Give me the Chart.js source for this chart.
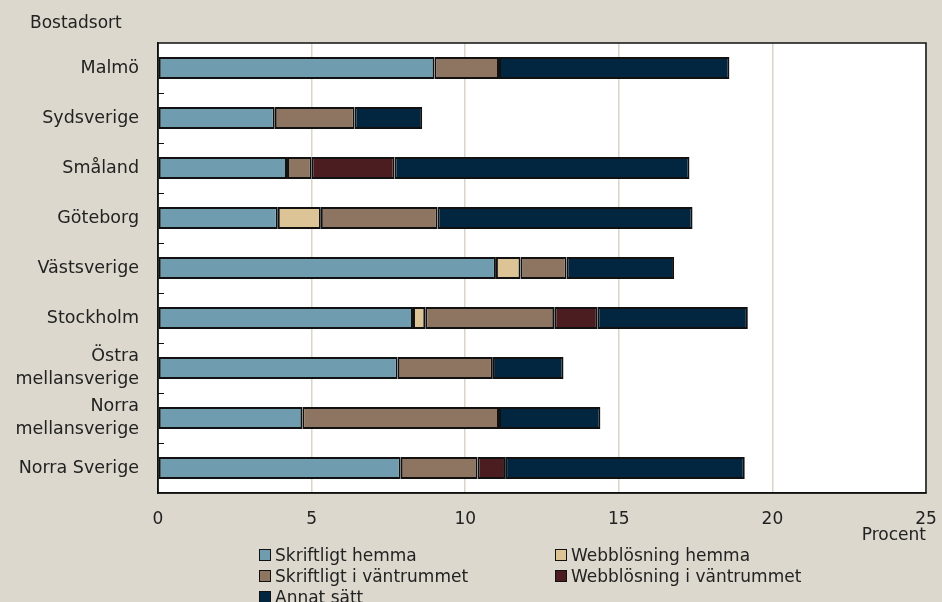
<!DOCTYPE html>
<html>
<head>
<meta charset="utf-8">
<script src="https://cdn.jsdelivr.net/npm/chart.js@4.4.1/dist/chart.umd.min.js"></script>
<style>
  body { margin: 0; background: #DDD8CD; font-family: "DejaVu Sans", sans-serif; }
  #wrap { position: relative; width: 942px; height: 602px; background: #DDD8CD; overflow: hidden; }
  #ytitle { position: absolute; left: 30px; top: 12px; font-size: 17px; color: #222; }
  #legend { position: absolute; left: 259px; top: 544px; display: grid; grid-template-columns: 296px 300px; row-gap: 0; }
  .item { display: flex; align-items: center; height: 21px; font-size: 17px; color: #222; white-space: nowrap; }
  .box { width: 10px; height: 10px; border: 1px solid #111; margin-right: 4px; }
</style>
</head>
<body>
<div id="wrap">
  <div id="ytitle">Bostadsort</div>
  <canvas id="chart" width="942" height="548"></canvas>
  <div id="legend"></div>
</div>
<script>
// categories (top to bottom)
var regions = ["Malmö", "Sydsverige", "Småland", "Göteborg", "Västsverige", "Stockholm",
  ["Östra", "mellansverige"], ["Norra", "mellansverige"], "Norra Sverige"];

// series, percent
var skriftligtHemma = [9.0, 3.8, 4.2, 3.9, 11.0, 8.3, 7.8, 4.7, 7.9];
var webbHemma = [0, 0, 0, 1.4, 0.8, 0.4, 0, 0, 0];
var skriftligtVantrum = [2.1, 2.6, 0.8, 3.8, 1.5, 4.2, 3.1, 6.4, 2.5];
var webbVantrum = [0, 0, 2.7, 0, 0, 1.4, 0, 0, 0.9];
var annatSatt = [7.5, 2.2, 9.6, 8.3, 3.5, 4.9, 2.3, 3.3, 7.8];

var xTicks = [0, 5, 10, 15, 20, 25];

function ds(label, data, color) {
  return {
    label: label,
    data: data,
    backgroundColor: color,
    borderColor: "#111",
    borderWidth: 2,
    borderSkipped: false,
    categoryPercentage: 1.0,
    barPercentage: 0.44
  };
}

// white plot area
var plotBg = {
  id: 'plotBg',
  beforeDraw: function(chart) {
    var a = chart.chartArea;
    chart.ctx.save();
    chart.ctx.fillStyle = "#fff";
    chart.ctx.fillRect(a.left, a.top, a.right - a.left, a.bottom - a.top);
    chart.ctx.restore();
  }
};

// frame round the plot + small ticks between categories
var framePlugin = {
  id: 'frame',
  afterDraw: function(chart) {
    var ctx = chart.ctx;
    var a = chart.chartArea;
    var y = chart.scales.y;
    ctx.save();
    ctx.strokeStyle = "#111";
    ctx.lineWidth = 1.5;
    ctx.strokeRect(a.left, a.top, a.right - a.left, a.bottom - a.top);
    ctx.lineWidth = 1;
    for (var i = 0; i < regions.length - 1; i++) {
      var yy = Math.round((y.getPixelForValue(i) + y.getPixelForValue(i + 1)) / 2) + 0.5;
      ctx.beginPath();
      ctx.moveTo(a.left, yy);
      ctx.lineTo(a.left + 6, yy);
      ctx.stroke();
    }
    ctx.restore();
  }
};

var chart = new Chart(document.getElementById('chart'), {
  type: 'bar',
  data: {
    labels: regions,
    datasets: [
      ds("Skriftligt hemma", skriftligtHemma, "#6F9DAF"),
      ds("Webblösning hemma", webbHemma, "#DDC497"),
      ds("Skriftligt i väntrummet", skriftligtVantrum, "#8D7562"),
      ds("Webblösning i väntrummet", webbVantrum, "#4B1C20"),
      ds("Annat sätt", annatSatt, "#022540")
    ]
  },
  options: {
    indexAxis: 'y',
    responsive: false,
    animation: false,
    layout: { padding: { top: 43, right: 16, left: 0, bottom: 0 } },
    plugins: {
      legend: { display: false },
      tooltip: { enabled: false }
    },
    scales: {
      x: {
        stacked: true,
        min: 0,
        max: 25,
        afterBuildTicks: function(scale) {
          scale.ticks = xTicks.map(function(v) { return { value: v }; });
        },
        afterFit: function(scale) {
          scale.height = 55;
          scale.paddingRight = 0;
          scale.paddingLeft = 0;
        },
        grid: { color: "#DAD4C9", lineWidth: 1.5, drawTicks: false },
        border: { display: true, color: "#111", width: 1.5 },
        ticks: { padding: 16, color: "#222", font: { family: "DejaVu Sans", size: 17 }, maxRotation: 0 },
        title: {
          display: true,
          text: "Procent",
          align: 'end',
          color: "#222",
          font: { family: "DejaVu Sans", size: 17 },
          padding: { top: 0, bottom: 2 }
        }
      },
      y: {
        stacked: true,
        afterFit: function(scale) { scale.width = 158; },
        grid: { display: false, drawTicks: false },
        border: { display: true, color: "#111", width: 1.5 },
        ticks: { autoSkip: false, padding: 19, color: "#222", font: { family: "DejaVu Sans", size: 17.5, lineHeight: 1.35 } }
      }
    }
  },
  plugins: [plotBg, framePlugin]
});

// legend in two columns, built from the chart's datasets
var legendEl = document.getElementById('legend');
chart.data.datasets.forEach(function(d) {
  legendEl.innerHTML += '<div class="item"><span class="box" style="background:' + d.backgroundColor + '"></span>' + d.label + '</div>';
});
</script>
</body>
</html>
